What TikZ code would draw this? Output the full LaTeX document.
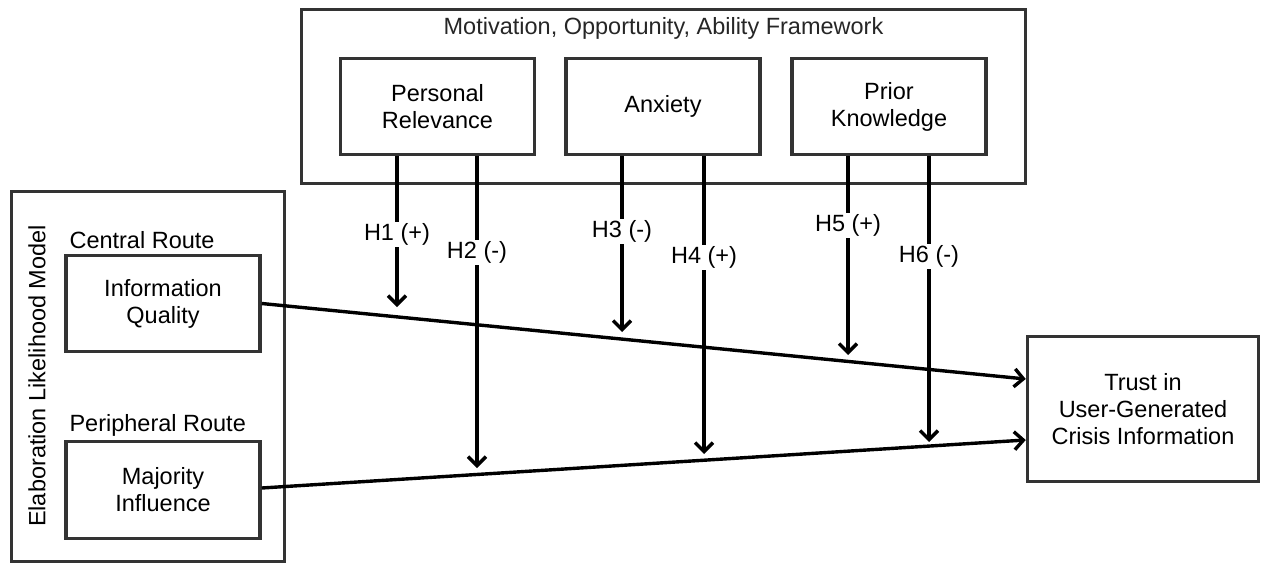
\documentclass[tikz,border=0pt]{standalone}
\usepackage{fontspec}
\setmainfont{Liberation Sans}
\usetikzlibrary{arrows.meta,calc}
\definecolor{boxline}{HTML}{333333}
\begin{document}
\begin{tikzpicture}[x=1pt,y=-1pt,
  txt/.style={font=\fontsize{23.5}{27}\selectfont, align=center},
  box/.style={draw=boxline, line width=3.5pt, txt, inner sep=0pt},
  smallbox/.style={box, minimum width=194pt, minimum height=96pt},
  link/.style={line width=3.4pt, black, -{Straight Barb[length=9pt,width=18pt]}},
  hyp/.style={txt, fill=white, inner sep=1.5pt}]
\useasboundingbox (0,0) rectangle (1262,565);

% Motivation, Opportunity, Ability framework
\node[box, minimum width=724pt, minimum height=174pt] (moa) at (663.5,96.5) {};
\node[txt, text=black!85] (moatitle) at (663.5,28) {Motivation, Opportunity, Ability Framework};
\node[smallbox] (pr)  at (437.5,106.5) {Personal\\Relevance};
\node[smallbox] (anx) at (663,106.5) {Anxiety};
\node[smallbox] (pk)  at (889,106.5) {Prior\\Knowledge};

% Elaboration Likelihood Model
\node[box, minimum width=273pt, minimum height=370pt] (elm) at (148,376.5) {};
\node[txt, rotate=90] (elmtitle) at (37,376) {Elaboration Likelihood Model};
\node[txt, anchor=west] (central) at (66,240) {Central Route};
\node[txt, anchor=west] (peripheral) at (66,425) {Peripheral Route};
\node[smallbox] (iq) at (163,303.5) {Information\\Quality};
\node[smallbox, minimum height=97pt] (mi) at (163,490) {Majority\\Influence};

% Outcome
\node[box, minimum width=231pt, minimum height=145pt] (trust) at (1143,409) {Trust in\\User-Generated\\Crisis Information};

% Main paths
\draw[link] (iq.east) -- ([yshift=30pt]trust.west);
\draw[link] ([yshift=2pt]mi.east) -- ([yshift=-31pt]trust.west);

% Moderating hypotheses
\coordinate (t1) at (397,307);
\coordinate (t2) at (477,468);
\coordinate (t3) at (622,332);
\coordinate (t4) at (704,454);
\coordinate (t5) at (848,355);
\coordinate (t6) at (929,442);
\draw[link] (pr.south -| t1)  -- node[hyp, pos=0.52] {H1 (+)} (t1);
\draw[link] (pr.south -| t2)  -- node[hyp, pos=0.31] {H2 (-)} (t2);
\draw[link] (anx.south -| t3) -- node[hyp, pos=0.43] {H3 (-)} (t3);
\draw[link] (anx.south -| t4) -- node[hyp, pos=0.34] {H4 (+)} (t4);
\draw[link] (pk.south -| t5)  -- node[hyp, pos=0.35] {H5 (+)} (t5);
\draw[link] (pk.south -| t6)  -- node[hyp, pos=0.35] {H6 (-)} (t6);
\end{tikzpicture}
\end{document}
